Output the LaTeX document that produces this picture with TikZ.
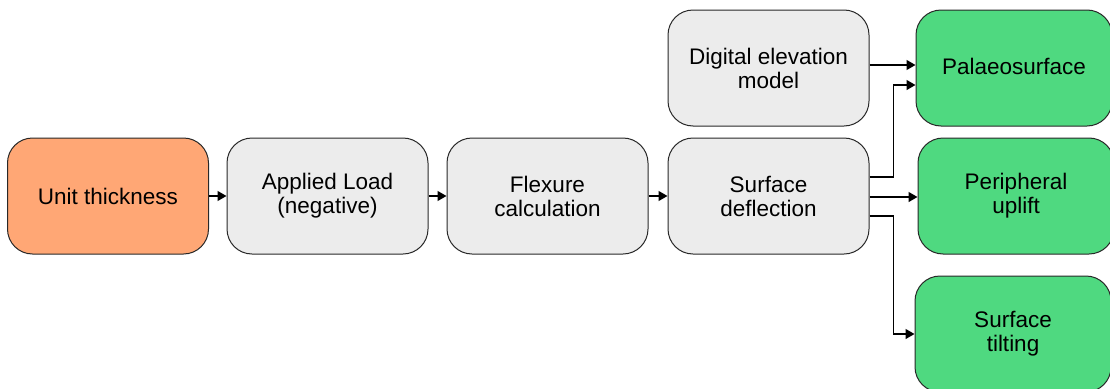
\documentclass[tikz,border=0pt]{standalone}
\usepackage{fontspec}
\setmainfont{Liberation Sans}
\usetikzlibrary{arrows.meta}
\definecolor{boxgray}{RGB}{236,236,236}
\definecolor{boxorange}{RGB}{255,167,117}
\definecolor{boxgreen}{RGB}{79,217,128}
\definecolor{edgecol}{RGB}{40,40,40}
\tikzset{
  box/.style={draw=edgecol, line width=1pt, rounded corners=25pt, minimum width=201pt,
    minimum height=116pt, align=center, inner sep=0pt,
    font=\fontsize{22.5}{24}\selectfont},
  graybox/.style={box, fill=boxgray},
  orangebox/.style={box, fill=boxorange},
  greenbox/.style={box, fill=boxgreen, minimum width=196pt},
  arr/.style={line width=1.3pt, -{Triangle[length=9pt,width=10pt]}}
}
\begin{document}
\begin{tikzpicture}[x=1pt,y=-1pt]
\useasboundingbox (0,0) rectangle (1110,388);
\clip (0,0) rectangle (1110,388);
\node[orangebox] (unit) at (108,196) {Unit thickness};
\node[graybox] (load) at (327.5,196) {Applied Load\\(negative)};
\node[graybox] (flex) at (547.5,196) {Flexure\\calculation};
\node[graybox] (defl) at (768.5,196) {Surface\\deflection};
\node[graybox] (dem) at (768.5,68) {Digital elevation\\model};
\node[greenbox] (palaeo) at (1014,68) {\raisebox{3pt}{Palaeosurface}};
\node[greenbox] (uplift) at (1016,196) {Peripheral\\uplift};
\node[greenbox] (tilt) at (1013,334) {Surface\\tilting};
\draw[arr] (unit.east) -- (load.west);
\draw[arr] (load.east) -- (flex.west);
\draw[arr] (flex.east) -- (defl.west);
\draw[arr] ([yshift=3pt]dem.east) -- ([yshift=3pt]palaeo.west);
\draw[arr] ([yshift=19pt]defl.east) -| ([xshift=-22pt,yshift=-17pt]palaeo.west) -- ([yshift=-17pt]palaeo.west);
\draw[arr] ([yshift=-1pt]defl.east) -- ([yshift=-1pt]uplift.west);
\draw[arr] ([yshift=-20pt]defl.east) -| ([xshift=-21pt]tilt.west) -- (tilt.west);
\end{tikzpicture}
\end{document}
